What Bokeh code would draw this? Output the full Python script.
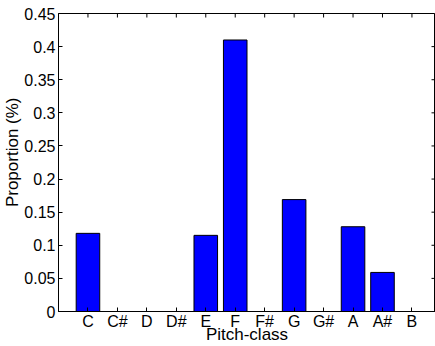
from bokeh.plotting import figure
from bokeh.models import FixedTicker, Range1d, ColumnDataSource, Title
from bokeh.embed import file_html
from bokeh.resources import INLINE

pitch_classes = ["C", "C#", "D", "D#", "E", "F", "F#", "G", "G#", "A", "A#", "B"]
proportions = [0.118, 0.0, 0.0, 0.0, 0.115, 0.41, 0.0, 0.169, 0.0, 0.128, 0.059, 0.0]
y_ticks = [0, 0.05, 0.1, 0.15, 0.2, 0.25, 0.3, 0.35, 0.4, 0.45]

positions = list(range(1, len(pitch_classes) + 1))
src = ColumnDataSource(dict(x=positions, top=proportions, name=pitch_classes))

FONT = "Liberation Sans"
X0, X1 = 0.0, 12.8
Y0, Y1 = 0.0, 0.45

p = figure(width=435, height=346, output_backend="svg", toolbar_location=None,
           x_range=Range1d(X0, X1), y_range=Range1d(Y0, Y1),
           min_border_left=58, min_border_right=0, min_border_top=13, min_border_bottom=35,
           background_fill_color="white", border_fill_color="white")
p.outline_line_color = "black"
p.outline_line_width = 1
p.grid.visible = False

p.vbar(x="x", top="top", width=0.8, bottom=0, source=src,
       fill_color="#0000ff", line_color="black", line_width=1)

# inward tick marks on the top and right edges (mirroring the bottom/left ticks)
px_x = (X1 - X0) / 377.0
px_y = (Y1 - Y0) / 298.0
p.segment(x0=positions, y0=[Y1] * len(positions), x1=positions,
          y1=[Y1 - 4 * px_y] * len(positions), line_color="black", line_width=1)
p.segment(x0=[X1] * len(y_ticks), y0=y_ticks, x1=[X1 - 4 * px_x] * len(y_ticks),
          y1=y_ticks, line_color="black", line_width=1)

label_over = {x: n for x, n in zip(positions, pitch_classes)}
ytick_over = {t: f"{t:g}" for t in y_ticks}

for ax in p.xaxis:
    ax.ticker = FixedTicker(ticks=positions)
    ax.major_label_overrides = label_over
    ax.axis_label = "Pitch-class"
    ax.axis_label_standoff = -8
    ax.major_label_standoff = 1

for ax in p.yaxis:
    ax.ticker = FixedTicker(ticks=y_ticks)
    ax.major_label_overrides = ytick_over
    ax.major_label_standoff = 3

for ax in p.axis:
    ax.major_tick_in = 4
    ax.major_tick_out = 0
    ax.minor_tick_in = 0
    ax.minor_tick_out = 0
    ax.major_tick_line_color = "black"
    ax.axis_line_color = "black"
    ax.major_label_text_font = FONT
    ax.major_label_text_font_size = "16px"
    ax.major_label_text_color = "black"
    ax.axis_label_text_font = FONT
    ax.axis_label_text_font_size = "17px"
    ax.axis_label_text_font_style = "normal"
    ax.axis_label_text_color = "black"

ylab = Title(text="Proportion (%)", align="right", vertical_align="bottom", offset=84,
             standoff=0, text_font=FONT, text_font_size="17px", text_font_style="normal",
             text_color="black")
p.add_layout(ylab, "left")

open("out.html", "w").write(file_html(p, INLINE))
